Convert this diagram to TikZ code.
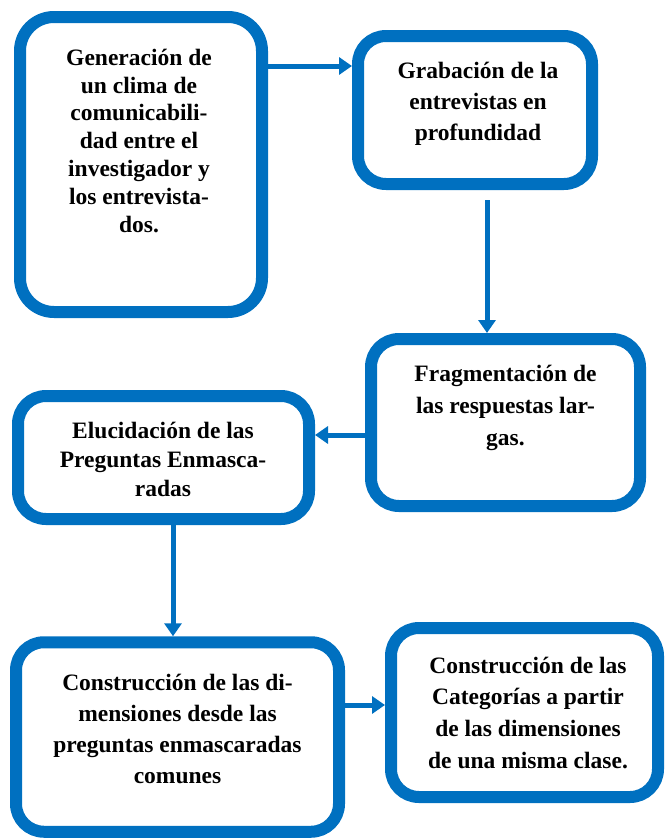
\documentclass[tikz,border=0pt]{standalone}
\usepackage{fontspec}
\setmainfont{Liberation Serif}
\usetikzlibrary{arrows.meta}
\definecolor{fblue}{RGB}{0,112,192}
\newcommand{\fls}{\rule{0pt}{17pt}}
\tikzset{
  box/.style={draw=fblue, line width=12pt, rounded corners=28pt, fill=white, inner sep=0pt},
  txt/.style={align=center, inner sep=0pt, anchor=north},
  arr/.style={draw=fblue, line width=5pt, -{Triangle[width=17pt,length=13pt]}}
}
\begin{document}
\begin{tikzpicture}[x=1pt,y=-1pt]
\useasboundingbox (0,0) rectangle (664,838);
% boxes
\node[box, rounded corners=34pt, minimum width=242pt, minimum height=295pt] (b1) at (141,164.5) {};
\node[box, minimum width=234pt, minimum height=148pt] (b2) at (475,110) {};
\node[box, minimum width=269pt, minimum height=167pt] (b3) at (505.5,422.5) {};
\node[box, minimum width=291pt, minimum height=123pt] (b4) at (163.5,457.5) {};
\node[box, minimum width=323pt, minimum height=189.5pt] (b5) at (177.5,737) {};
\node[box, minimum width=267pt, minimum height=169pt] (b6) at (524.5,712.5) {};
% texts
\node[txt, font=\fontsize{23.5}{27.8}\selectfont\bfseries] (t1) at (139,48)
  {\fls Generación de\\un clima de\\comunicabili-\\dad entre el\\investigador y\\los entrevista-\\dos.};
\node[txt, font=\fontsize{23.5}{31}\selectfont\bfseries] (t2) at (478,61.3)
  {\fls Grabación de la\\entrevistas en\\profundidad};
\node[txt, font=\fontsize{23.5}{31.7}\selectfont\bfseries] (t3) at (505.5,364.7)
  {\fls Fragmentación de\\las respuestas lar-\\gas.};
\node[txt, font=\fontsize{23.5}{29.3}\selectfont\bfseries] (t4) at (163,421)
  {\fls Elucidación de las\\Preguntas Enmasca-\\radas};
\node[txt, font=\fontsize{23.5}{31}\selectfont\bfseries] (t5) at (177.5,673)
  {\fls Construcción de las di-\\mensiones desde las\\preguntas enmascaradas\\comunes};
\node[txt, font=\fontsize{23.5}{31.6}\selectfont\bfseries] (t6) at (528,656)
  {\fls Construcción de las\\Categorías a partir\\de las dimensiones\\de una misma clase.};
% arrows
\draw[arr] (b1.east |- 0,66) -- (b2.west |- 0,66);
\draw[arr] (b2.south -| 487,0) ++(0,10) -- (b3.north -| 487,0);
\draw[arr] (b3.west |- 0,435) -- (b4.east |- 0,435);
\draw[arr] (b4.south -| 173,0) ++(0,-10) -- (b5.north -| 173,0);
\draw[arr] (b5.east |- 0,705) -- (b6.west |- 0,705);
\end{tikzpicture}
\end{document}
